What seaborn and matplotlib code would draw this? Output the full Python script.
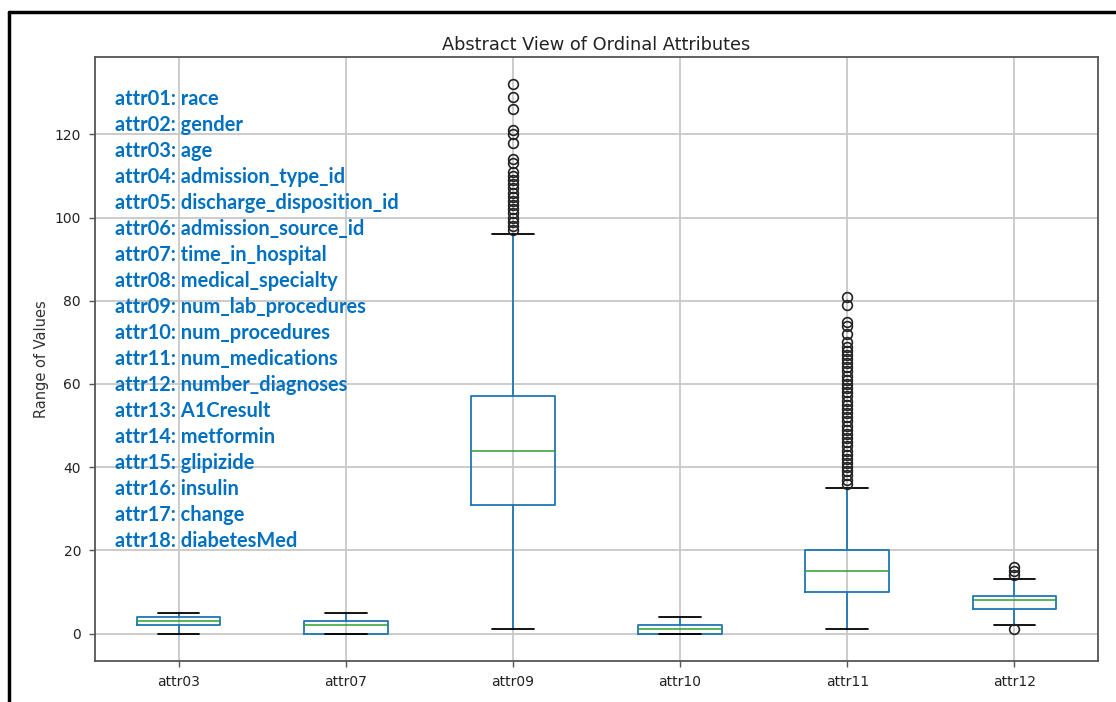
import matplotlib
matplotlib.use("Agg")
import matplotlib.pyplot as plt
import seaborn as sns
from matplotlib.lines import Line2D

# ---- data ----
columns = ["attr03", "attr07", "attr09", "attr10", "attr11", "attr12"]
q1_vals = [2, 0, 31, 0, 10, 6]
median_vals = [3, 2, 44, 1, 15, 8]
q3_vals = [4, 3, 57, 2, 20, 9]
whisker_low = [0, 0, 1, 0, 1, 2]
whisker_high = [5, 5, 96, 4, 35, 13]
fliers_attr03 = []
fliers_attr07 = []
fliers_attr09 = [97, 98, 99, 100, 101, 102, 103, 104, 105, 106, 107, 108, 109,
                 110, 111, 113, 114, 118, 120, 121, 126, 129, 132]
fliers_attr10 = []
fliers_attr11 = [36, 37, 38, 39, 40, 41, 42, 43, 44, 45, 46, 47, 48, 49, 50,
                 51, 52, 53, 54, 55, 56, 57, 58, 59, 60, 61, 62, 63, 64, 65,
                 66, 67, 68, 69, 70, 72, 74, 75, 79, 81]
fliers_attr12 = [1, 14, 15, 16]
attribute_legend = [
    "attr01: race", "attr02: gender", "attr03: age", "attr04: admission_type_id",
    "attr05: discharge_disposition_id", "attr06: admission_source_id",
    "attr07: time_in_hospital", "attr08: medical_specialty",
    "attr09: num_lab_procedures", "attr10: num_procedures",
    "attr11: num_medications", "attr12: number_diagnoses",
    "attr13: A1Cresult", "attr14: metformin", "attr15: glipizide",
    "attr16: insulin", "attr17: change", "attr18: diabetesMed",
]
title = "Abstract View of Ordinal Attributes"
ylabel = "Range of Values"

fliers_all = [fliers_attr03, fliers_attr07, fliers_attr09,
              fliers_attr10, fliers_attr11, fliers_attr12]

# ---- style ----
sns.set_theme(style="whitegrid")
palette = sns.color_palette("tab10")
plt.rcParams["font.family"] = ["DejaVu Sans"]

fig = plt.figure(figsize=(11.16, 7.02), dpi=100)
ax = fig.add_axes([95 / 1116, 1 - 661 / 702, (1098 - 95) / 1116, (661 - 57) / 702])

stats = []
for i, name in enumerate(columns):
    stats.append(dict(label=name, q1=q1_vals[i], med=median_vals[i], q3=q3_vals[i],
                      whislo=whisker_low[i], whishi=whisker_high[i],
                      fliers=fliers_all[i]))

ax.bxp(stats, widths=0.5, showfliers=True,
       boxprops=dict(color=palette[0], linewidth=1.3),
       whiskerprops=dict(color=palette[0], linewidth=1.3),
       capprops=dict(color="black", linewidth=1.3),
       medianprops=dict(color=palette[2], linewidth=1.1),
       flierprops=dict(marker="o", markerfacecolor="none", markeredgecolor="#222222",
                       markersize=7, markeredgewidth=1.2, linestyle="none"))

ax.set_xlim(0.5, 6.5)
ax.set_ylim(-6.6, 138.6)
ax.set_yticks([0, 20, 40, 60, 80, 100, 120])
ax.grid(True, color="#c8c8c8", linewidth=1.3)
ax.set_axisbelow(True)
for s in ax.spines.values():
    s.set_color("#555555")
    s.set_linewidth(1.3)
ax.tick_params(axis="both", which="both", length=4, width=1, color="#555555",
               labelsize=10, labelcolor="#222222", pad=6,
               left=True, bottom=True)
ax.set_title(title, fontsize=12.8, color="#222222", pad=5)
ax.set_ylabel(ylabel, fontsize=10.5, color="#333333", labelpad=4)

# attribute legend text
y0 = (661 - 99) / 604
step = 26 / 604
for k, txt in enumerate(attribute_legend):
    ax.text(0.02, y0 - k * step, txt, transform=ax.transAxes, ha="left", va="center",
            fontsize=14.4, fontweight="bold", color="#0070C0", family="Lato")

# outer screenshot border (top and left edges)
fig.add_artist(Line2D([9 / 1116, 1.0], [1 - 11.5 / 702, 1 - 11.5 / 702],
                      transform=fig.transFigure, color="black", linewidth=2.5))
fig.add_artist(Line2D([9 / 1116, 9 / 1116], [0.0, 1 - 11.5 / 702],
                      transform=fig.transFigure, color="black", linewidth=2.5))

fig.savefig("out.png", dpi=100)
